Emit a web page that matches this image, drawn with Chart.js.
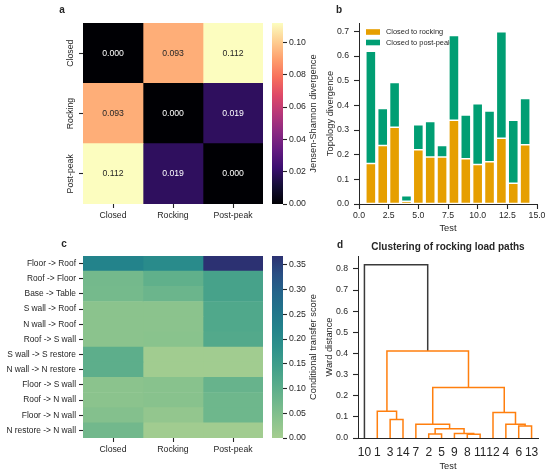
<!DOCTYPE html>
<html lang="en">
  <head>
    <meta charset="UTF-8" />
    <title>Load path divergence</title>
    <script src="https://cdn.jsdelivr.net/npm/chart.js"></script>
    <style>
      body { margin: 0; background: #fff; }
      #fig { position: relative; width: 550px; height: 474px; }
      #fig canvas { position: absolute; left: 0; top: 0; }
    </style>
  </head>
  <body>
    <div id="fig">
      <canvas id="jsdChart" width="550" height="474"></canvas>
      <canvas id="jsdBar" width="550" height="474"></canvas>
      <canvas id="topoChart" width="550" height="474"></canvas>
      <canvas id="transferChart" width="550" height="474"></canvas>
      <canvas id="transferBar" width="550" height="474"></canvas>
      <canvas id="dendroChart" width="550" height="474"></canvas>
    </div>

    <script>
      // Data
      const phases = ["Closed", "Rocking", "Post-peak"];
      const jsdValues = [
        [0.0, 0.093, 0.112],
        [0.093, 0.0, 0.019],
        [0.112, 0.019, 0.0],
      ];

      const testIds = [1, 2, 3, 4, 5, 6, 7, 8, 9, 10, 11, 12, 13, 14];
      const closedToRocking = [0.164, 0.237, 0.311, 0.011, 0.22, 0.191, 0.191, 0.34, 0.183, 0.16, 0.171, 0.267, 0.084, 0.24];
      const closedToPostPeak = [0.455, 0.15, 0.182, 0.022, 0.101, 0.144, 0.046, 0.343, 0.178, 0.247, 0.206, 0.432, 0.256, 0.188];

      const transferPaths = [
        "Floor -> Roof", "Roof -> Floor", "Base -> Table", "S wall -> Roof",
        "N wall -> Roof", "Roof -> S wall", "S wall -> S restore", "N wall -> N restore",
        "Floor -> S wall", "Roof -> N wall", "Floor -> N wall", "N restore -> N wall",
      ];
      const transferScores = [
        [0.22, 0.2, 0.368],
        [0.067, 0.095, 0.135],
        [0.065, 0.08, 0.135],
        [0.035, 0.035, 0.12],
        [0.035, 0.035, 0.12],
        [0.035, 0.038, 0.115],
        [0.1, 0.005, 0.005],
        [0.1, 0.005, 0.005],
        [0.035, 0.04, 0.085],
        [0.035, 0.04, 0.075],
        [0.045, 0.025, 0.075],
        [0.07, 0.005, 0.005],
      ];

      // dendrogram leaves (left to right) and Ward merges:
      // [node, node, distance], nodes 0-13 are leaves, 14+ are earlier merges
      const leafLabels = ["10", "1", "3", "14", "7", "2", "5", "9", "8", "11", "12", "4", "6", "13"];
      const wardMerges = [
        [2, 3, 0.088],
        [1, 14, 0.126],
        [5, 6, 0.019],
        [8, 9, 0.018],
        [7, 17, 0.021],
        [16, 18, 0.044],
        [4, 19, 0.065],
        [12, 13, 0.057],
        [11, 21, 0.065],
        [10, 22, 0.121],
        [20, 23, 0.239],
        [15, 24, 0.412],
        [0, 25, 0.82],
      ];

      // General look
      const W = 550, H = 474;
      const ink = "#262626";
      const family = "'Liberation Sans', Arial, sans-serif";
      Chart.defaults.font.family = family;
      Chart.defaults.font.size = 8.7;
      Chart.defaults.color = ink;
      Chart.defaults.animation = false;
      Chart.defaults.responsive = false;
      Chart.defaults.plugins.legend.display = false;
      Chart.defaults.plugins.tooltip.enabled = false;

      const magma = ["#000004", "#140e36", "#3b0f70", "#641a80", "#8c2981", "#b73779", "#de4968", "#f7705c", "#fe9f6d", "#fecf92", "#fcfdbf"];
      const crest = ["#a5cd90", "#8ac38d", "#6fb78c", "#56ab8b", "#3f9e8a", "#2d918b", "#23838b", "#21748b", "#24648a", "#294f84", "#2c3172"];

      function hexRgb(h) {
        return [1, 3, 5].map((i) => parseInt(h.slice(i, i + 2), 16));
      }
      function sample(stops, t) {
        t = Math.min(1, Math.max(0, t));
        const p = t * (stops.length - 1);
        const i = Math.min(Math.floor(p), stops.length - 2);
        const a = hexRgb(stops[i]), b = hexRgb(stops[i + 1]);
        return "rgb(" + a.map((v, k) => Math.round(v + (b[k] - v) * (p - i))).join(",") + ")";
      }

      // padding that puts the chart area at [left, top, right, bottom]
      function pad(area, yw, xh, yRight) {
        return {
          left: yRight ? area[0] : area[0] - yw,
          right: yRight ? W - area[2] - yw : W - area[2],
          top: area[1],
          bottom: H - area[3] - xh,
        };
      }
      const fix = (prop, v) => (s) => { s[prop] = v; };
      const tickGrid = { drawOnChartArea: false, tickLength: 4, color: ink, tickColor: ink, tickWidth: 1.1 };
      const spine = { display: true, color: ink, width: 1 };

      // free text (panel letters, axis titles)
      Chart.register({
        id: "figText",
        afterDraw(chart, args, opts) {
          const ctx = chart.ctx;
          (opts.items || []).forEach((t) => {
            ctx.save();
            ctx.translate(t.x, t.y);
            if (t.rot) ctx.rotate((t.rot * Math.PI) / 180);
            ctx.font = (t.bold ? "bold " : "") + (t.size || 9.3) + "px " + family;
            ctx.fillStyle = ink;
            ctx.textAlign = t.align || "center";
            ctx.textBaseline = "middle";
            ctx.fillText(t.text, 0, 0);
            ctx.restore();
          });
        },
      });

      function gradientFill(stops) {
        return {
          id: "gradientFill",
          beforeDatasetsDraw(chart) {
            const { ctx, chartArea: a } = chart;
            const g = ctx.createLinearGradient(0, a.bottom, 0, a.top);
            stops.forEach((s, i) => g.addColorStop(i / (stops.length - 1), s));
            ctx.fillStyle = g;
            ctx.fillRect(a.left, a.top, a.right - a.left, a.bottom - a.top);
          },
        };
      }

      function heatmap(id, rows, values, stops, vmax, area, yw, xh, yTicks, texts, extra) {
        return new Chart(document.getElementById(id), {
          type: "bar",
          data: {
            labels: rows,
            datasets: phases.map((p, c) => ({
              label: p,
              data: rows.map(() => [c, c + 1]),
              backgroundColor: values.map((row) => sample(stops, row[c] / vmax)),
              grouped: false,
              barPercentage: 1,
              categoryPercentage: 1,
              borderWidth: 0,
            })),
          },
          options: {
            indexAxis: "y",
            layout: { padding: pad(area, yw, xh) },
            scales: {
              x: {
                type: "linear",
                min: 0,
                max: phases.length,
                afterBuildTicks: (s) => { s.ticks = phases.map((_, i) => ({ value: i + 0.5 })); },
                afterFit: fix("height", xh),
                ticks: { callback: (v) => phases[Math.floor(v)], padding: 2, maxRotation: 0, autoSkip: false },
                grid: tickGrid,
                border: { display: false },
              },
              y: {
                afterFit: fix("width", yw),
                ticks: yTicks,
                grid: Object.assign({ offset: false }, tickGrid),
                border: { display: false },
              },
            },
            plugins: { figText: { items: texts } },
          },
          plugins: extra ? [extra] : [],
        });
      }

      function colorbar(id, stops, vmax, step, area, label) {
        return new Chart(document.getElementById(id), {
          type: "bar",
          data: { labels: [], datasets: [] },
          options: {
            layout: { padding: pad(area, 40, 0, true) },
            scales: {
              x: { display: false },
              y: {
                position: "right",
                min: 0,
                max: vmax,
                afterFit: fix("width", 40),
                ticks: { stepSize: step, includeBounds: false, padding: 2, callback: (v) => v.toFixed(2) },
                grid: tickGrid,
                border: { display: false },
              },
            },
            plugins: { figText: { items: [{ text: label, x: 313, y: (area[1] + area[3]) / 2, rot: -90 }] } },
          },
          plugins: [gradientFill(stops)],
        });
      }

      // a: Jensen-Shannon heatmap
      const jsdMax = Math.max(...jsdValues.flat());
      heatmap("jsdChart", phases, jsdValues, magma, jsdMax, [83, 23, 263, 204], 20, 30,
        { display: false },
        [{ text: "a", x: 62, y: 10, bold: true, size: 10 }],
        {
          id: "cellLabels",
          afterDatasetsDraw(chart) {
            const { ctx, scales: { x, y } } = chart;
            ctx.save();
            ctx.font = "8.7px " + family;
            ctx.textAlign = "center";
            ctx.textBaseline = "middle";
            jsdValues.forEach((row, r) => {
              row.forEach((v, c) => {
                ctx.fillStyle = v / jsdMax < 0.5 ? "#ffffff" : ink;
                ctx.fillText(v.toFixed(3), x.getPixelForValue(c + 0.5), y.getPixelForValue(r));
              });
              // rotated row labels
              ctx.save();
              ctx.fillStyle = ink;
              ctx.translate(70.5, y.getPixelForValue(r));
              ctx.rotate(-Math.PI / 2);
              ctx.fillText(phases[r], 0, 0);
              ctx.restore();
            });
            ctx.restore();
          },
        });
      colorbar("jsdBar", magma, jsdMax, 0.02, [272, 23, 283, 204], "Jensen-Shannon divergence");

      // b: stacked topology divergence per test
      new Chart(document.getElementById("topoChart"), {
        type: "bar",
        data: {
          datasets: [
            { label: "Closed to rocking", values: closedToRocking, color: "#E69F00" },
            { label: "Closed to post-peak", values: closedToPostPeak, color: "#009E73" },
          ].map((s) => ({
            label: s.label,
            data: testIds.map((t, i) => ({ x: t, y: s.values[i] })),
            backgroundColor: s.color,
            borderColor: "#ffffff",
            borderWidth: 0.75,
            borderSkipped: false,
            barPercentage: 0.85,
            categoryPercentage: 1,
          })),
        },
        options: {
          layout: { padding: pad([359, 23, 537, 204], 69, 31) },
          scales: {
            x: {
              type: "linear",
              stacked: true,
              offset: false,
              min: 0,
              max: 15,
              afterFit: fix("height", 31),
              ticks: { stepSize: 2.5, includeBounds: false, padding: 1, maxRotation: 0, callback: (v) => v.toFixed(1) },
              grid: Object.assign({}, tickGrid, { tickLength: 5, offset: false }),
              border: spine,
            },
            y: {
              stacked: true,
              min: 0,
              max: 0.734,
              afterFit: fix("width", 69),
              ticks: { stepSize: 0.1, includeBounds: false, padding: 5, callback: (v) => v.toFixed(1) },
              grid: Object.assign({}, tickGrid, { tickLength: 5 }),
              border: spine,
            },
          },
          plugins: {
            figText: {
              items: [
                { text: "b", x: 339, y: 10, bold: true, size: 10 },
                { text: "Test", x: 448, y: 228 },
                { text: "Topology divergence", x: 330, y: 113.5, rot: -90 },
              ],
            },
          },
        },
        plugins: [
          {
            id: "innerLegend",
            beforeDatasetsDraw(chart) {
              const ctx = chart.ctx;
              ctx.save();
              ctx.font = "7.4px " + family;
              ctx.textBaseline = "middle";
              chart.data.datasets.forEach((d, i) => {
                const y = 32 + i * 10.5;
                ctx.fillStyle = d.backgroundColor;
                ctx.fillRect(366, y - 2.8, 14, 5.6);
                ctx.fillStyle = ink;
                ctx.fillText(d.label, 386, y);
              });
              ctx.restore();
            },
          },
        ],
      });

      // c: conditional transfer heatmap
      const transferMax = Math.max(...transferScores.flat());
      heatmap("transferChart", transferPaths, transferScores, crest, transferMax, [83, 256, 263, 438], 83, 36,
        { padding: 3, autoSkip: false, font: { size: 8.4 } },
        [{ text: "c", x: 64, y: 244, bold: true, size: 10 }]);
      colorbar("transferBar", crest, transferMax, 0.05, [272, 256, 283, 438], "Conditional transfer score");

      // d: dendrogram built from the merge list
      const nodes = leafLabels.map((_, i) => ({ x: 5 + 10 * i, h: 0 }));
      wardMerges.forEach(([a, b, h]) => nodes.push({ x: (nodes[a].x + nodes[b].x) / 2, h: h }));
      const topMerge = Math.max(...wardMerges.map((m) => m[2]));

      new Chart(document.getElementById("dendroChart"), {
        type: "scatter",
        data: {
          datasets: wardMerges.map(([a, b, h]) => ({
            data: [
              { x: nodes[a].x, y: nodes[a].h },
              { x: nodes[a].x, y: h },
              { x: nodes[b].x, y: h },
              { x: nodes[b].x, y: nodes[b].h },
            ],
            showLine: true,
            borderColor: h > 0.7 * topMerge ? "#3a3a3a" : "#ff7f0e",
            borderWidth: 1.5,
            pointRadius: 0,
            tension: 0,
            clip: false,
          })),
        },
        options: {
          layout: { padding: pad([358, 256, 538, 438], 68, 24) },
          scales: {
            x: {
              type: "linear",
              min: 0,
              max: leafLabels.length * 10,
              afterBuildTicks: (s) => { s.ticks = leafLabels.map((_, i) => ({ value: 5 + 10 * i })); },
              afterFit: fix("height", 24),
              ticks: { callback: (v, i) => leafLabels[i], font: { size: 12 }, padding: 7, maxRotation: 0, autoSkip: false },
              grid: { drawOnChartArea: false, drawTicks: false },
              border: spine,
            },
            y: {
              min: 0,
              max: topMerge * 1.05,
              afterFit: fix("width", 68),
              ticks: { stepSize: 0.1, includeBounds: false, padding: 5, callback: (v) => v.toFixed(1) },
              grid: Object.assign({}, tickGrid, { tickLength: 5 }),
              border: spine,
            },
          },
          plugins: {
            figText: {
              items: [
                { text: "d", x: 340, y: 245, bold: true, size: 10 },
                { text: "Clustering of rocking load paths", x: 448, y: 247, bold: true, size: 10 },
                { text: "Test", x: 448, y: 466 },
                { text: "Ward distance", x: 329, y: 347, rot: -90 },
              ],
            },
          },
        },
      });
    </script>
  </body>
</html>
